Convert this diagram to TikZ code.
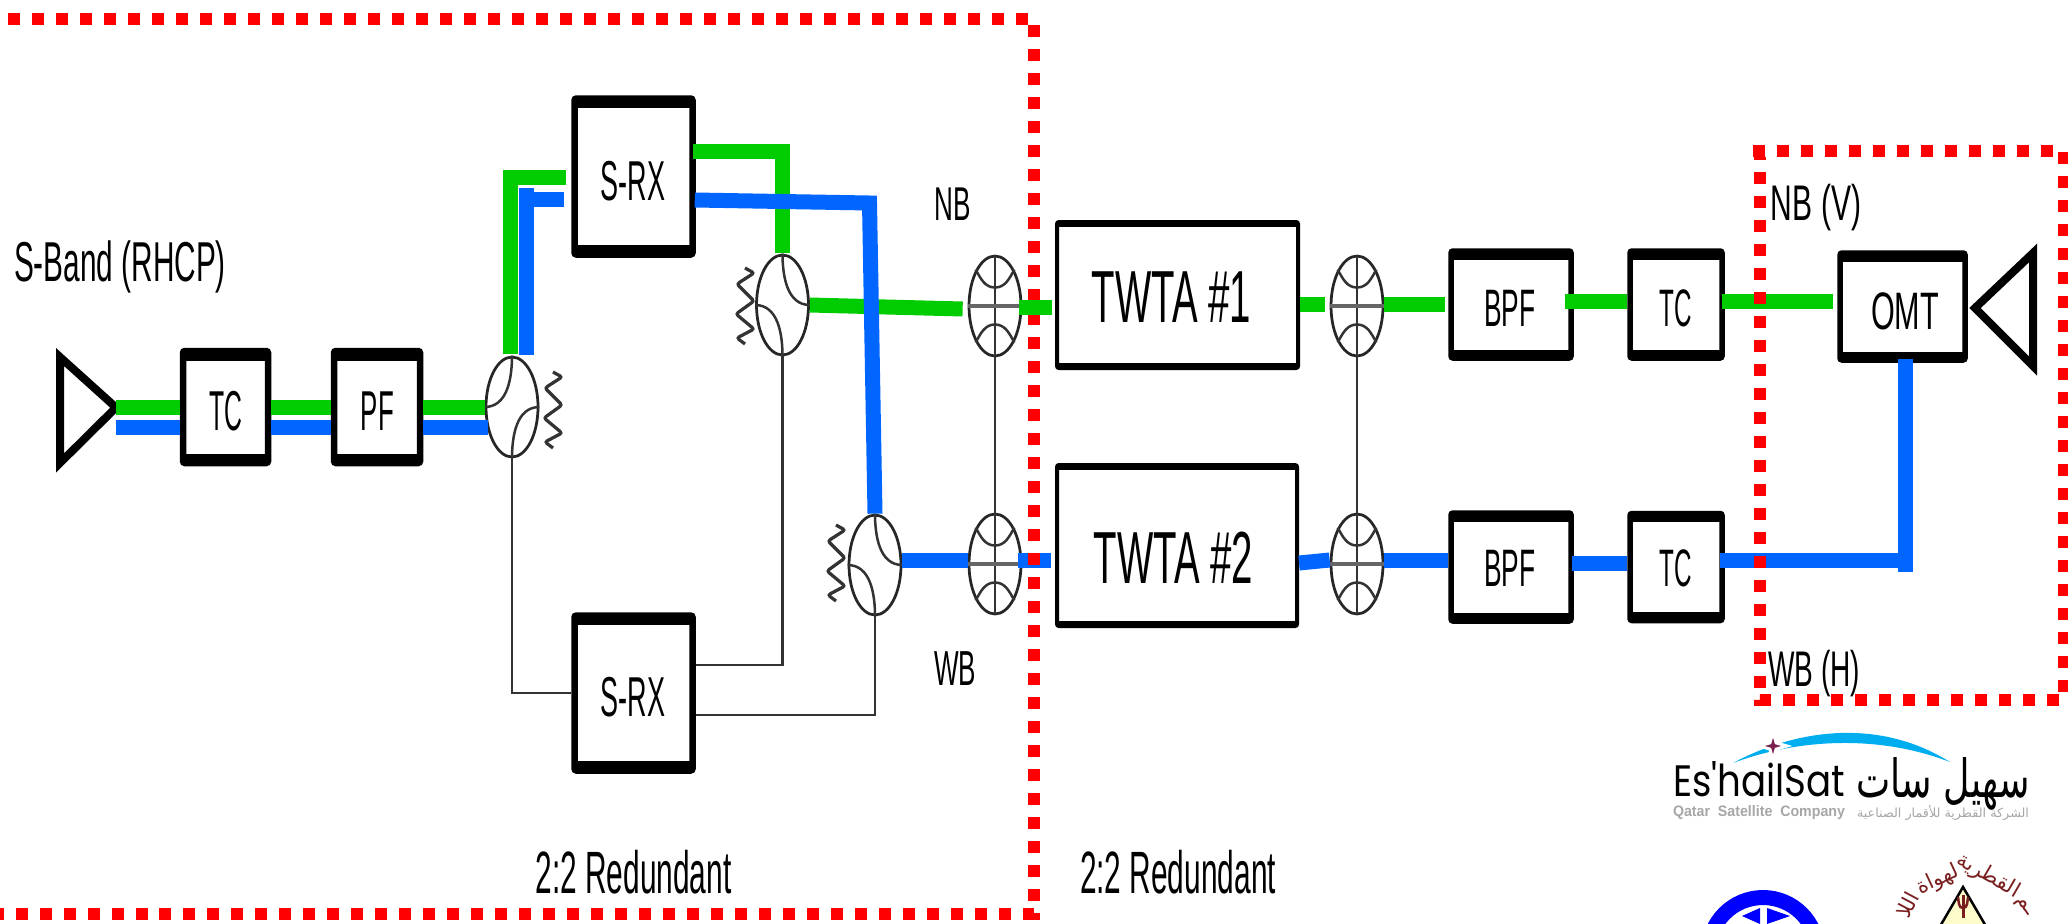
\documentclass[tikz,border=0pt]{standalone}
\usepackage{graphicx}
\usepackage{fontspec}
\usepackage{xcolor}
\usepackage{tikz}
\usetikzlibrary{shapes.geometric, calc}
\setmainfont{Liberation Sans}
\newfontfamily\arabicfont[Script=Arabic]{DejaVu Sans}
\newfontfamily\logofont{Poppins}
\TeXXeTstate=1
\definecolor{wiregreen}{HTML}{00CC00}
\definecolor{wireblue}{HTML}{0066FF}
\definecolor{logocyan}{HTML}{00AEEF}
\definecolor{logoplum}{HTML}{7B1F4F}
\definecolor{logomaroon}{HTML}{7A1F1F}
\newcommand{\narrow}[3]{\scalebox{#2}[1]{\fontsize{#1}{#1}\selectfont #3}}
\newcommand{\resistor}[2]{\draw[thinwire, line width=0.065cm, rounded corners=0.05cm] (#1+9,#2) -- ++(9,-5) -- ++(-17,-11) -- ++(17,-17) -- ++(-18,-13) -- ++(18,-15) -- ++(-17,-9) -- ++(8,-6);}
\tikzset{
    blockbox/.style={rectangle, draw=black, fill=white, inner sep=0pt, rounded corners=0.04cm},
    bars/.style={path picture={
        \draw[line width=#1] (path picture bounding box.north west) -- (path picture bounding box.north east);
        \draw[line width=#1] (path picture bounding box.south west) -- (path picture bounding box.south east);}},
    smallblock/.style 2 args={blockbox, line width=0.13cm, bars=0.38cm, minimum width=#1*0.02cm, minimum height=#2*0.02cm},
    filterblock/.style 2 args={blockbox, line width=0.11cm, bars=0.34cm, minimum width=#1*0.02cm, minimum height=#2*0.02cm},
    twtablock/.style 2 args={blockbox, line width=0.08cm, bars=0.2cm, minimum width=#1*0.02cm, minimum height=#2*0.02cm},
    switchnode/.style={ellipse, draw=black!85, line width=0.055cm, inner sep=0pt, minimum width=1.04cm, minimum height=2.0cm},
    thinwire/.style={draw=black!80, line width=0.05cm},
    gwire/.style={draw=wiregreen, line width=0.3cm},
    bwire/.style={draw=wireblue, line width=0.3cm},
    hornline/.style={draw=black, line width=0.16cm, line join=miter},
    redframe/.style={draw=red, line width=0.24cm, dash pattern=on 0.24cm off 0.24cm},
    lbl/.style={anchor=base, inner sep=0pt},
}
\begin{document}
\begin{tikzpicture}[x=0.02cm, y=0.02cm]
    \useasboundingbox (0,0) rectangle (2068,-923);
    \clip (0,0) rectangle (2068,-923);

    % Blocks, left to right
    \node[smallblock={85}{112}] (tcA) at (225.5,-407) {};
    \node[smallblock={86}{112}] (pfA) at (377,-407) {};
    \node[smallblock={118}{156}] (srxA) at (633.5,-176.5) {};
    \node[smallblock={118}{155}] (srxB) at (633.5,-693) {};
    \node[twtablock={241}{146}] (twtaA) at (1177.5,-295) {};
    \node[twtablock={240}{161}] (twtaB) at (1177,-545.5) {};
    \node[filterblock={120}{107}] (bpfA) at (1511,-304.5) {};
    \node[filterblock={120}{108}] (bpfB) at (1511,-567) {};
    \node[filterblock={92}{107}] (tcB) at (1676,-304.5) {};
    \node[filterblock={92}{107}] (tcC) at (1676,-567) {};
    \node[filterblock={125}{107}] (omt) at (1902.5,-306.5) {};

    % Block names
    \node[lbl] (tcAname) at (225.5,-430) {\narrow{32}{0.44}{TC}};
    \node[lbl] (pfAname) at (377.5,-430) {\narrow{32}{0.46}{PF}};
    \node[lbl] (srxAname) at (633,-200) {\narrow{32}{0.48}{S-RX}};
    \node[lbl] (srxBname) at (633,-716) {\narrow{32}{0.48}{S-RX}};
    \node[lbl] (twtaAname) at (1171.5,-322) {\narrow{42}{0.52}{TWTA \#1}};
    \node[lbl] (twtaBname) at (1173.5,-583) {\narrow{42}{0.52}{TWTA \#2}};
    \node[lbl] (bpfAname) at (1510,-326) {\narrow{30}{0.5}{BPF}};
    \node[lbl] (bpfBname) at (1510,-586) {\narrow{30}{0.5}{BPF}};
    \node[lbl] (tcBname) at (1676,-326) {\narrow{30}{0.46}{TC}};
    \node[lbl] (tcCname) at (1676,-586) {\narrow{30}{0.46}{TC}};
    \node[lbl] (omtname) at (1905,-329) {\narrow{30}{0.58}{OMT}};

    % Horns
    \coordinate (hornA) at (116,-407.5);
    \draw[hornline] (60,-357) -- (60,-463) -- (hornA) -- cycle;
    \coordinate (hornB) at (1975,-308);
    \draw[hornline] (2033,-253) -- (2033,-366) -- (hornB) -- cycle;

    % Hybrids and their loads
    \node[switchnode] (splitA) at (512,-407) {};
    \node[switchnode] (splitB) at (782.5,-305) {};
    \node[switchnode] (splitC) at (875,-565) {};
    \draw[thinwire] (splitA.north) to[out=-90,in=0] (splitA.west);
    \draw[thinwire] (splitA.south) to[out=90,in=180] (splitA.east);
    \foreach \s in {splitB,splitC} {
        \draw[thinwire] (\s.north) to[out=-90,in=180] (\s.east);
        \draw[thinwire] (\s.south) to[out=90,in=0] (\s.west);
    }
    \resistor{544}{-372}
    \resistor{736}{-268}
    \resistor{827}{-525}

    % Switches
    \node[switchnode] (xA) at (995,-306) {};
    \node[switchnode] (xB) at (995,-564) {};
    \node[switchnode] (xC) at (1357,-306) {};
    \node[switchnode] (xD) at (1357,-564) {};
    \foreach \s in {xA,xB,xC,xD} {
        \draw[thinwire] (\s.north) -- (\s.south);
        \draw[thinwire, line width=0.07cm, black!60] (\s.west) -- (\s.east);
        \draw[thinwire] (\s.north west) to[out=-60,in=180] ($(\s.center)!0.36!(\s.north)$) to[out=0,in=-120] (\s.north east);
        \draw[thinwire] (\s.south west) to[out=60,in=180] ($(\s.center)!0.36!(\s.south)$) to[out=0,in=120] (\s.south east);
    }

    % Thin redundancy lines
    \draw[thinwire] (splitA.south) |- (srxB.west);
    \draw[thinwire] (splitB.south) |- ([shift={(0,28)}]srxB.east);
    \draw[thinwire] (splitC.south) |- ([shift={(0,-22)}]srxB.east);
    \draw[thinwire] (xA.south) -- (xB.north);
    \draw[thinwire] (xC.south) -- (xD.north);

    % Green path
    \draw[gwire] (hornA) -- (hornA -| tcA.west);
    \draw[gwire] (tcA.east) -- (pfA.west);
    \draw[gwire] (pfA.east) -- (splitA.west);
    \draw[gwire] ([shift={(-1.5,2)}]splitA.north) |- ([shift={(-5,-1)}]srxA.west);
    \draw[gwire] ([shift={(-3,25)}]srxA.east) -| ([shift={(0,1)}]splitB.north);
    \draw[gwire] (splitB.east) -- ([shift={(-5,-3)}]xA.west);
    \draw[gwire] ([shift={(0,2)}]twtaA.east |- xC.west) -- ([shift={(-5,2)}]xC.west);
    \draw[gwire] ([shift={(0,2)}]xC.east) -- ([shift={(-3,2)}]xC.east -| bpfA.west);
    \draw[gwire] ([shift={(-9,3)}]bpfA.east) -- ([shift={(0,3)}]tcB.west);
    \draw[gwire] ([shift={(-3,3)}]tcB.east) -- ([shift={(-4,5)}]omt.west);

    % Blue path
    \draw[bwire] ([shift={(0,-20)}]hornA) -- ([shift={(0,-20)}]hornA -| tcA.west);
    \draw[bwire] ([shift={(0,-20)}]tcA.east) -- ([shift={(0,-20)}]pfA.west);
    \draw[bwire] ([shift={(0,-20)}]pfA.east) -- ([shift={(3,-20)}]splitA.west);
    \coordinate (blueup) at (526.5,-188);
    \draw[bwire] ([shift={(14.5,1)}]splitA.north) -- (blueup);
    \draw[bwire] ([shift={(-7,-23)}]srxA.west) -- ([shift={(0,-11.5)}]blueup);
    \coordinate (bluebend) at (869.5,-203);
    \draw[bwire, line join=miter] ([shift={(-1,-23.5)}]srxA.east) -- (bluebend) -- (splitC.north);
    \draw[bwire] ([shift={(0,5)}]splitC.east) -- ([shift={(0,4)}]xB.west);
    \draw[bwire] ([shift={(-4,4)}]xB.east) -- ([shift={(-4,4)}]xB.east -| twtaB.west);
    \draw[bwire] ([shift={(0,-17.5)}]twtaB.east) -- ([shift={(0,4)}]xD.west);
    \draw[bwire] ([shift={(0,4)}]xD.east) -- ([shift={(0,4)}]xD.east -| bpfB.west);
    \draw[bwire] ([shift={(-2,4)}]bpfB.east) -- ([shift={(0,4)}]tcC.west);
    \coordinate (omtdrop) at (1905.5,-572);
    \draw[bwire] ([shift={(-5,7)}]tcC.east) -- ([shift={(0,12)}]omtdrop);
    \draw[bwire] ([shift={(3,4)}]omt.south) -- (omtdrop);

    % Red dotted frames
    \draw[redframe] (8,-19) -- (1034,-19) -- (1034,-914) -- (0,-914);
    \draw[redframe] (1753,-151) -| (2063.5,-700) -| (1759.5,-157);
    \draw[gwire] ([shift={(-3,-1)}]xA.east) -- ([shift={(-3,-1)}]xA.east -| twtaA.west);

    % Labels
    \node[lbl] (sband) at (120,-281) {\narrow{32}{0.53}{S-Band (RHCP)}};
    \node[lbl] (nbA) at (953,-220) {\narrow{27}{0.55}{NB}};
    \node[lbl] (wbA) at (955,-685) {\narrow{28}{0.53}{WB}};
    \node[lbl] (nbB) at (1816,-220) {\narrow{28.5}{0.6}{NB (V)}};
    \node[lbl] (wbB) at (1814,-686) {\narrow{28.5}{0.56}{WB (H)}};
    \node[lbl] (redA) at (633.5,-893) {\narrow{34}{0.5}{2:2 Redundant}};
    \node[lbl] (redB) at (1178,-893) {\narrow{34}{0.5}{2:2 Redundant}};

    % EshailSat logo
    \fill[logocyan] (1733,-763) .. controls (1790,-732) and (1875,-715) .. (1950,-762) .. controls (1880,-735) and (1800,-738) .. cycle;
    \node[star, star points=4, star point ratio=3.2, fill=logoplum, draw=white, line width=0.06cm, inner sep=0pt, minimum size=0.56cm] (logostar) at (1773,-746) {};
    \node[inner sep=0pt] (logoen) at (1759,-779) {\resizebox{3.44cm}{0.7cm}{\logofont Es'hailSat}};
    \node[inner sep=0pt] (logoar) at (1943,-784) {\resizebox{3.46cm}{0.8cm}{\arabicfont\beginR سهيل سات\endR}};
    \node[inner sep=0pt, text=black!35] (logoensub) at (1759,-812.5) {\resizebox{3.44cm}{0.22cm}{\bfseries Qatar\ \ Satellite\ \ Company}};
    \node[inner sep=0pt, text=black!35] (logoarsub) at (1943,-813) {\resizebox{3.44cm}{0.24cm}{\arabicfont\beginR الشركة القطرية للأقمار الصناعية\endR}};

    % Emblems cut by the lower edge
    \node[circle, draw=blue, line width=0.3cm, inner sep=0pt, minimum size=2.18cm] (ringlogo) at (1763,-952) {};
    \fill[blue] (1742,-916) -- (1760,-908) -- (1760,-924) -- cycle;
    \fill[blue] (1767,-908) -- (1767,-924) -- (1790,-916) -- cycle;
    \fill[yellow!20] (1963,-887) -- (1939,-928) -- (1987,-928) -- cycle;
    \draw[black, line width=0.05cm] (1939,-928) -- (1963,-887) -- (1987,-928);
    \draw[logomaroon, line width=0.06cm] (1963,-895) -- (1963,-918);
    \draw[logomaroon, line width=0.05cm] (1958,-897) to[out=-80,in=180] (1963,-908) to[out=0,in=-100] (1968,-897);
    \node[rotate=-30, inner sep=0pt, text=logomaroon] (arcA) at (1988,-876) {\arabicfont\fontsize{12}{12}\selectfont\beginR القطرية\endR};
    \node[rotate=25, inner sep=0pt, text=logomaroon] (arcB) at (1938,-880) {\arabicfont\fontsize{12}{12}\selectfont\beginR لهواة\endR};
    \node[rotate=62, inner sep=0pt, text=logomaroon] (arcC) at (1907,-905) {\arabicfont\fontsize{12}{12}\selectfont\beginR اللا\endR};
    \node[rotate=-55, inner sep=0pt, text=logomaroon] (arcD) at (2023,-907) {\arabicfont\fontsize{12}{12}\selectfont\beginR ـم\endR};
\end{tikzpicture}
\end{document}
